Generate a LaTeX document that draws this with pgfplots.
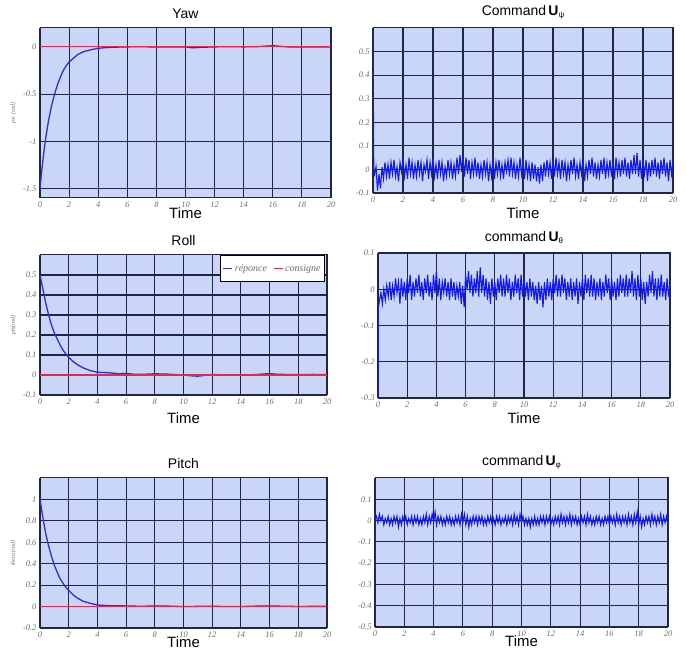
\documentclass[border=0pt]{standalone}
\usepackage{pgfplots}
\pgfplotsset{compat=1.18}
\usepackage{fontspec}
\setmainfont{Liberation Sans}
\newfontfamily\tickfont{Liberation Serif}
\definecolor{bgc}{RGB}{202,214,248}
\definecolor{gridc}{RGB}{32,38,72}
\definecolor{respc}{RGB}{50,45,210}
\definecolor{noisec}{RGB}{15,25,240}
\definecolor{redc}{RGB}{228,40,80}
\definecolor{tickc}{RGB}{110,110,110}
\pgfplotsset{
  every axis/.append style={
    scale only axis,
    xmin=0, xmax=20, xtick={0,2,...,20},
    grid=major,
    major grid style={draw=gridc, line width=1.1bp},
    axis line style={draw=gridc, line width=1bp},
    major tick length=0pt,
    axis background/.style={fill=bgc},
    tick label style={font=\tickfont\itshape\fontsize{8.5}{9}\selectfont, text=tickc},
    /pgf/number format/assume math mode=true,
    xlabel={Time},
    xlabel style={font=\fontsize{15}{15}\selectfont, at={(axis description cs:0.5,0)}, anchor=center},
    title style={font=\fontsize{14}{14}\selectfont, at={(axis description cs:0.5,1)}, anchor=south, inner sep=0pt, yshift=3bp},
    ylabel style={font=\tickfont\itshape\fontsize{6}{6}\selectfont, text=tickc},
  }
}
\newcommand{\Usub}[1]{\textbf{U}{\fontsize{8}{8}\selectfont\raisebox{-2bp}{#1}}}
\begin{document}
\begin{tikzpicture}
\useasboundingbox (0bp,0bp) rectangle (686bp,650bp);
% ---------------- Yaw
\begin{axis}[at={(40bp,622bp)}, anchor=north west, width=291bp, height=170bp,
  ymin=-1.6, ymax=0.2, ytick={-1.5,-1,-0.5,0},
  title={Yaw}, ylabel={psi (rad)}, xlabel style={yshift=-15bp}]
\addplot[respc, line width=1.3bp] coordinates {
(0,-1.5)(0.1,-1.34)(0.2,-1.20)(0.3,-1.07)(0.4,-0.96)(0.5,-0.86)(0.6,-0.77)(0.8,-0.62)(1.0,-0.50)(1.2,-0.40)(1.4,-0.32)(1.6,-0.25)(1.8,-0.20)(2.0,-0.16)(2.3,-0.12)(2.6,-0.08)(3.0,-0.05)(3.5,-0.03)(4.0,-0.015)(4.5,-0.008)(5,-0.004)(6,0.0)(7,0.002)(8,-0.002)(9,0.0)(10,0.0)(10.5,-0.01)(11,-0.005)(12,0.0)(13,0.002)(14,0.0)(15,0.003)(15.5,0.008)(16,0.012)(16.5,0.006)(17,0.0)(18,-0.002)(19,0.0)(20,0.0)};
\addplot[redc, line width=1.2bp] coordinates {(0,0)(20,0)};
\end{axis}
% ---------------- Command U psi
\begin{axis}[at={(373bp,622bp)}, anchor=north west, width=300bp, height=165bp,
  ymin=-0.1, ymax=0.6, ytick={-0.1,0,0.1,0.2,0.3,0.4,0.5},
  title={Command\,\Usub{ψ}}, xlabel style={yshift=-20bp}]
\addplot[noisec, line width=1.1bp] coordinates {
(0,0.60)(0.05,0.00)(0.1,-0.02)(0.2,0.01)(0.3,-0.09)(0.4,-0.02)(0.5,-0.08)(0.6,0.01)(0.7,-0.04)(0.8,0.03)(0.9,-0.03)(1.0,0.02)
(1.1,-0.04)(1.2,0.03)(1.3,-0.02)(1.4,0.04)(1.5,-0.03)(1.6,0.01)(1.7,-0.05)(1.8,0.03)(1.9,-0.01)(2.0,0.04)
(2.1,-0.03)(2.2,0.02)(2.3,-0.04)(2.4,0.05)(2.5,-0.02)(2.6,0.03)(2.7,-0.04)(2.8,0.02)(2.9,-0.03)(3.0,0.04)
(3.1,-0.02)(3.2,0.03)(3.3,-0.05)(3.4,0.02)(3.5,-0.01)(3.6,0.04)(3.7,-0.04)(3.8,0.03)(3.9,-0.02)(4.0,0.05)
(4.1,-0.03)(4.2,0.02)(4.3,-0.04)(4.4,0.04)(4.5,-0.02)(4.6,0.03)(4.7,-0.05)(4.8,0.01)(4.9,-0.03)(5.0,0.04)
(5.1,-0.02)(5.2,0.03)(5.3,-0.04)(5.4,0.02)(5.5,-0.03)(5.6,0.05)(5.7,-0.02)(5.8,0.06)(5.9,-0.01)(6.0,0.06)
(6.1,-0.03)(6.2,0.05)(6.3,-0.02)(6.4,0.04)(6.5,-0.04)(6.6,0.03)(6.7,-0.02)(6.8,0.05)(6.9,-0.03)(7.0,0.03)
(7.1,-0.04)(7.2,0.02)(7.3,-0.03)(7.4,0.04)(7.5,-0.02)(7.6,0.03)(7.7,-0.05)(7.8,0.02)(7.9,-0.03)(8.0,0.04)
(8.1,-0.04)(8.2,0.03)(8.3,-0.02)(8.4,0.04)(8.5,-0.03)(8.6,0.02)(8.7,-0.04)(8.8,0.03)(8.9,-0.01)(9.0,0.04)
(9.1,-0.03)(9.2,0.05)(9.3,-0.02)(9.4,0.03)(9.5,-0.04)(9.6,0.02)(9.7,-0.03)(9.8,0.05)(9.9,-0.02)(10.0,0.03)
(10.1,-0.04)(10.2,0.04)(10.3,-0.03)(10.4,0.02)(10.5,-0.05)(10.6,0.03)(10.7,-0.04)(10.8,0.02)(10.9,-0.05)(11.0,0.01)
(11.1,-0.06)(11.2,0.02)(11.3,-0.05)(11.4,0.03)(11.5,-0.03)(11.6,0.04)(11.7,-0.02)(11.8,0.03)(11.9,-0.04)(12.0,0.04)
(12.1,-0.03)(12.2,0.05)(12.3,-0.02)(12.4,0.03)(12.5,-0.04)(12.6,0.04)(12.7,-0.02)(12.8,0.03)(12.9,-0.05)(13.0,0.02)
(13.1,-0.03)(13.2,0.04)(13.3,-0.02)(13.4,0.05)(13.5,-0.03)(13.6,0.02)(13.7,-0.04)(13.8,0.03)(13.9,-0.02)(14.0,0.04)
(14.1,-0.05)(14.2,0.02)(14.3,-0.03)(14.4,0.04)(14.5,-0.02)(14.6,0.05)(14.7,-0.03)(14.8,0.03)(14.9,-0.04)(15.0,0.02)
(15.1,-0.03)(15.2,0.04)(15.3,-0.02)(15.4,0.05)(15.5,-0.04)(15.6,0.03)(15.7,-0.02)(15.8,0.04)(15.9,-0.03)(16.0,0.03)
(16.1,-0.04)(16.2,0.05)(16.3,-0.02)(16.4,0.03)(16.5,-0.03)(16.6,0.04)(16.7,-0.02)(16.8,0.05)(16.9,-0.03)(17.0,0.03)
(17.1,-0.04)(17.2,0.04)(17.3,-0.02)(17.4,0.06)(17.5,-0.02)(17.6,0.07)(17.7,-0.03)(17.8,0.04)(17.9,-0.04)(18.0,0.03)
(18.1,-0.02)(18.2,0.04)(18.3,-0.05)(18.4,0.03)(18.5,-0.03)(18.6,0.04)(18.7,-0.02)(18.8,0.05)(18.9,-0.03)(19.0,0.03)
(19.1,-0.04)(19.2,0.04)(19.3,-0.02)(19.4,0.05)(19.5,-0.03)(19.6,0.03)(19.7,-0.05)(19.8,0.04)(19.9,-0.02)(20.0,0.03)};
\end{axis}
% ---------------- Roll
\begin{axis}[at={(40bp,395bp)}, anchor=north west, width=287bp, height=140bp,
  ymin=-0.1, ymax=0.6, ytick={-0.1,0,0.1,0.2,0.3,0.4,0.5},
  title={Roll}, ylabel={phi(rad)}, xlabel style={yshift=-23bp},
  legend columns=2,
  legend style={at={(axis description cs:0.993,1)}, anchor=north east, draw=black, line width=0.8bp, fill=white,
    font=\tickfont\itshape\fontsize{10}{11}\selectfont, text=tickc, inner xsep=2bp, inner ysep=7bp,
    /tikz/every even column/.append style={column sep=4bp}},
  legend image code/.code={\draw[#1] (0bp,0bp) -- (9bp,0bp);}]
\addplot[respc, line width=1.3bp] coordinates {
(0,0.5)(0.2,0.43)(0.4,0.36)(0.6,0.30)(0.8,0.25)(1.0,0.21)(1.2,0.18)(1.4,0.15)(1.6,0.125)(1.8,0.105)(2.0,0.088)(2.3,0.068)(2.6,0.052)(3.0,0.036)(3.5,0.022)(4.0,0.014)(4.5,0.012)(5.0,0.01)(5.5,0.006)(6,0.008)(6.5,0.004)(7,0.003)(8,0.006)(9,0.004)(10,0.0)(10.5,-0.004)(11,-0.006)(11.5,-0.002)(12,0.003)(13,0.0)(14,0.0)(15,0.002)(16,0.007)(16.5,0.004)(17,0.003)(18,0.002)(19,0.003)(20,0.002)};
\addlegendentry{réponce}
\addplot[redc, line width=1.2bp] coordinates {(0,0)(20,0)};
\addlegendentry{consigne}
\end{axis}
% ---------------- command U theta
\begin{axis}[at={(378bp,397bp)}, anchor=north west, width=292bp, height=145bp,
  ymin=-0.3, ymax=0.1, ytick={-0.3,-0.2,-0.1,0,0.1},
  title={command\,\Usub{θ}}, xlabel style={yshift=-20bp}]
\addplot[noisec, line width=1.1bp] coordinates {
(0,-0.3)(0.03,-0.05)(0.1,-0.03)(0.2,-0.01)(0.3,-0.04)(0.4,0.00)(0.5,-0.03)(0.6,0.01)(0.7,-0.02)(0.8,0.02)(0.9,-0.03)(1.0,0.01)
(1.1,-0.02)(1.2,0.03)(1.3,-0.01)(1.4,0.02)(1.5,-0.04)(1.6,0.03)(1.7,-0.02)(1.8,0.02)(1.9,-0.03)(2.0,0.03)
(2.1,-0.01)(2.2,0.04)(2.3,-0.03)(2.4,0.02)(2.5,-0.02)(2.6,0.03)(2.7,-0.01)(2.8,0.04)(2.9,-0.02)(3.0,0.02)
(3.1,-0.03)(3.2,0.03)(3.3,-0.01)(3.4,0.04)(3.5,-0.02)(3.6,0.02)(3.7,-0.03)(3.8,0.04)(3.9,-0.01)(4.0,0.05)
(4.1,-0.02)(4.2,0.03)(4.3,-0.03)(4.4,0.02)(4.5,-0.01)(4.6,0.03)(4.7,-0.02)(4.8,0.02)(4.9,-0.03)(5.0,0.03)
(5.1,-0.02)(5.2,0.02)(5.3,-0.03)(5.4,0.01)(5.5,-0.02)(5.6,0.02)(5.7,-0.04)(5.8,0.01)(5.9,-0.05)(6.0,0.04)
(6.1,0.00)(6.2,0.05)(6.3,-0.01)(6.4,0.04)(6.5,-0.02)(6.6,0.03)(6.7,-0.01)(6.8,0.05)(6.9,-0.02)(7.0,0.06)
(7.1,-0.01)(7.2,0.04)(7.3,-0.02)(7.4,0.03)(7.5,-0.03)(7.6,0.02)(7.7,-0.04)(7.8,0.03)(7.9,-0.02)(8.0,0.02)
(8.1,-0.03)(8.2,0.03)(8.3,-0.01)(8.4,0.04)(8.5,-0.02)(8.6,0.03)(8.7,-0.02)(8.8,0.04)(8.9,-0.01)(9.0,0.03)
(9.1,-0.03)(9.2,0.02)(9.3,-0.02)(9.4,0.04)(9.5,-0.01)(9.6,0.03)(9.7,-0.03)(9.8,0.04)(9.9,-0.02)(10.0,0.03)
(10.1,-0.02)(10.2,0.02)(10.3,-0.03)(10.4,0.03)(10.5,-0.02)(10.6,0.02)(10.7,-0.03)(10.8,0.01)(10.9,-0.04)(11.0,0.02)
(11.1,-0.03)(11.2,0.01)(11.3,-0.05)(11.4,0.02)(11.5,-0.03)(11.6,0.03)(11.7,-0.02)(11.8,0.02)(11.9,-0.03)(12.0,0.03)
(12.1,-0.01)(12.2,0.04)(12.3,-0.02)(12.4,0.03)(12.5,-0.02)(12.6,0.04)(12.7,-0.01)(12.8,0.03)(12.9,-0.03)(13.0,0.02)
(13.1,-0.02)(13.2,0.03)(13.3,-0.03)(13.4,0.02)(13.5,-0.02)(13.6,0.03)(13.7,-0.04)(13.8,0.02)(13.9,-0.02)(14.0,0.03)
(14.1,-0.03)(14.2,0.04)(14.3,-0.01)(14.4,0.03)(14.5,-0.02)(14.6,0.04)(14.7,-0.02)(14.8,0.03)(14.9,-0.03)(15.0,0.02)
(15.1,-0.02)(15.2,0.03)(15.3,-0.03)(15.4,0.02)(15.5,-0.02)(15.6,0.04)(15.7,-0.01)(15.8,0.03)(15.9,-0.03)(16.0,0.03)
(16.1,-0.02)(16.2,0.02)(16.3,-0.03)(16.4,0.03)(16.5,-0.02)(16.6,0.04)(16.7,-0.01)(16.8,0.03)(16.9,-0.02)(17.0,0.04)
(17.1,-0.02)(17.2,0.03)(17.3,-0.01)(17.4,0.05)(17.5,-0.02)(17.6,0.03)(17.7,-0.03)(17.8,0.04)(17.9,-0.02)(18.0,0.03)
(18.1,-0.03)(18.2,0.02)(18.3,-0.04)(18.4,0.02)(18.5,-0.02)(18.6,0.04)(18.7,-0.01)(18.8,0.05)(18.9,-0.02)(19.0,0.03)
(19.1,-0.03)(19.2,0.03)(19.3,-0.02)(19.4,0.04)(19.5,-0.02)(19.6,0.02)(19.7,-0.03)(19.8,0.03)(19.9,-0.02)(20.0,0.02)};
\end{axis}
% ---------------- Pitch
\begin{axis}[at={(40bp,172bp)}, anchor=north west, width=287bp, height=150bp,
  ymin=-0.2, ymax=1.2, ytick={-0.2,0,0.2,0.4,0.6,0.8,1},
  title={Pitch}, ylabel={theta (rad)}, xlabel style={yshift=-14bp}]
\addplot[respc, line width=1.3bp] coordinates {
(0,1.0)(0.2,0.83)(0.4,0.68)(0.6,0.565)(0.8,0.47)(1.0,0.385)(1.2,0.32)(1.4,0.26)(1.6,0.22)(1.8,0.18)(2.0,0.15)(2.3,0.11)(2.6,0.08)(3.0,0.05)(3.5,0.03)(4.0,0.015)(4.5,0.01)(5,0.008)(6,0.006)(7,0.003)(8,0.005)(9,0.004)(10,0.0)(11,0.002)(12,0.003)(13,0.0)(14,0.0)(15,0.004)(16,0.006)(17,0.003)(18,0.001)(19,0.002)(20,0.002)};
\addplot[redc, line width=1.2bp] coordinates {(0,0)(20,0)};
\end{axis}
% ---------------- command U phi
\begin{axis}[at={(375bp,172bp)}, anchor=north west, width=293bp, height=149bp,
  ymin=-0.5, ymax=0.2, ytick={-0.5,-0.4,-0.3,-0.2,-0.1,0,0.1},
  title={command\,\Usub{φ}}, xlabel style={yshift=-14bp}]
\addplot[noisec, line width=1.1bp] coordinates {
(0,-0.5)(0.03,0.01)(0.1,0.02)(0.2,-0.01)(0.3,0.03)(0.4,0.00)(0.5,0.02)(0.6,-0.02)(0.7,0.01)(0.8,-0.01)(0.9,0.02)(1.0,-0.02)
(1.1,0.01)(1.2,-0.02)(1.3,0.02)(1.4,-0.01)(1.5,0.02)(1.6,-0.03)(1.7,0.01)(1.8,-0.02)(1.9,0.02)(2.0,-0.01)
(2.1,0.02)(2.2,-0.02)(2.3,0.01)(2.4,-0.01)(2.5,0.02)(2.6,-0.02)(2.7,0.02)(2.8,-0.01)(2.9,0.02)(3.0,-0.02)
(3.1,0.01)(3.2,-0.02)(3.3,0.02)(3.4,-0.01)(3.5,0.03)(3.6,-0.02)(3.7,0.02)(3.8,-0.01)(3.9,0.03)(4.0,-0.01)
(4.1,0.04)(4.2,-0.02)(4.3,0.02)(4.4,-0.01)(4.5,0.02)(4.6,-0.02)(4.7,0.01)(4.8,-0.02)(4.9,0.02)(5.0,-0.01)
(5.1,0.02)(5.2,-0.02)(5.3,0.01)(5.4,-0.02)(5.5,0.02)(5.6,-0.01)(5.7,0.02)(5.8,-0.02)(5.9,0.03)(6.0,-0.01)
(6.1,0.03)(6.2,-0.02)(6.3,0.02)(6.4,-0.03)(6.5,0.01)(6.6,-0.02)(6.7,0.02)(6.8,-0.01)(6.9,0.02)(7.0,-0.02)
(7.1,0.02)(7.2,-0.01)(7.3,0.02)(7.4,-0.02)(7.5,0.01)(7.6,-0.02)(7.7,0.02)(7.8,-0.01)(7.9,0.02)(8.0,-0.02)
(8.1,0.01)(8.2,-0.02)(8.3,0.02)(8.4,-0.01)(8.5,0.02)(8.6,-0.02)(8.7,0.01)(8.8,-0.01)(8.9,0.02)(9.0,-0.02)
(9.1,0.02)(9.2,-0.01)(9.3,0.02)(9.4,-0.02)(9.5,0.03)(9.6,-0.01)(9.7,0.02)(9.8,-0.02)(9.9,0.03)(10.0,-0.01)
(10.1,0.02)(10.2,-0.02)(10.3,0.01)(10.4,-0.02)(10.5,0.01)(10.6,-0.03)(10.7,0.01)(10.8,-0.02)(10.9,0.02)(11.0,-0.02)
(11.1,0.01)(11.2,-0.02)(11.3,0.02)(11.4,-0.01)(11.5,0.02)(11.6,-0.02)(11.7,0.02)(11.8,-0.01)(11.9,0.02)(12.0,-0.02)
(12.1,0.01)(12.2,-0.02)(12.3,0.02)(12.4,-0.01)(12.5,0.02)(12.6,-0.02)(12.7,0.03)(12.8,-0.01)(12.9,0.02)(13.0,-0.02)
(13.1,0.02)(13.2,-0.01)(13.3,0.03)(13.4,-0.02)(13.5,0.02)(13.6,-0.01)(13.7,0.02)(13.8,-0.02)(13.9,0.01)(14.0,-0.02)
(14.1,0.02)(14.2,-0.01)(14.3,0.02)(14.4,-0.02)(14.5,0.03)(14.6,-0.01)(14.7,0.02)(14.8,-0.02)(14.9,0.01)(15.0,-0.02)
(15.1,0.02)(15.2,-0.01)(15.3,0.02)(15.4,-0.02)(15.5,0.01)(15.6,-0.02)(15.7,0.02)(15.8,-0.01)(15.9,0.02)(16.0,-0.02)
(16.1,0.02)(16.2,-0.01)(16.3,0.02)(16.4,-0.02)(16.5,0.03)(16.6,-0.01)(16.7,0.02)(16.8,-0.02)(16.9,0.02)(17.0,-0.01)
(17.1,0.02)(17.2,-0.02)(17.3,0.03)(17.4,-0.01)(17.5,0.02)(17.6,-0.02)(17.7,0.03)(17.8,-0.01)(17.9,0.04)(18.0,-0.02)
(18.1,0.02)(18.2,-0.03)(18.3,0.01)(18.4,-0.02)(18.5,0.02)(18.6,-0.01)(18.7,0.02)(18.8,-0.02)(18.9,0.03)(19.0,-0.01)
(19.1,0.02)(19.2,-0.02)(19.3,0.02)(19.4,-0.01)(19.5,0.03)(19.6,-0.02)(19.7,0.02)(19.8,-0.01)(19.9,0.02)(20.0,-0.02)};
\end{axis}
\end{tikzpicture}
\end{document}
